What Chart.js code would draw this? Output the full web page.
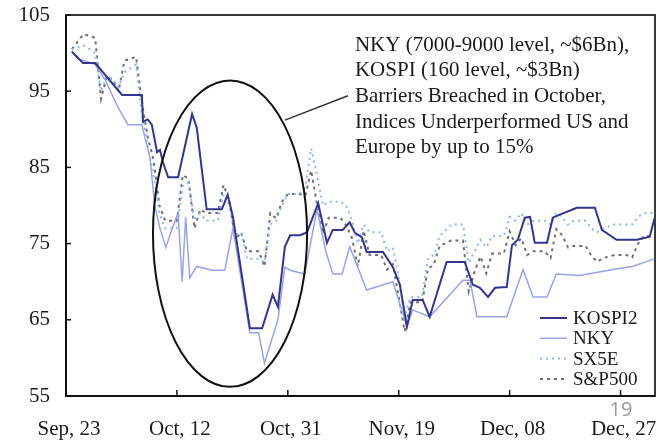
<!DOCTYPE html>
<html>
<head>
<meta charset="utf-8">
<script src="https://cdn.jsdelivr.net/npm/chart.js@4/dist/chart.umd.min.js"></script>
<style>
  html, body { margin: 0; padding: 0; background: #fff; }
  #wrap { width: 660px; height: 443px; }
</style>
</head>
<body>
<div id="wrap"><canvas id="chart" width="660" height="443"></canvas></div>
<script>
// days counted from Sep 23
const xTickDays = [0, 19, 38, 57, 76, 95];
const xTickLabels = ['Sep, 23', 'Oct, 12', 'Oct, 31', 'Nov, 19', 'Dec, 08', 'Dec, 27'];

const kospiDays = [1, 2.9, 5, 9.6, 13, 13.2, 14, 14.7, 15.6, 16.1, 16.6, 17.5, 19.2, 21.6, 22.4, 24.1, 26.7, 27.7, 28.6, 31.5,
  33.6, 35.4, 36.3, 37.5, 38.4, 40.1, 41.3, 43.2, 44.7, 45.7, 47.4, 48.6, 49.5, 50.7, 51.5, 54.3, 56, 57.2, 58.4, 59.4,
  61.1, 62.3, 65.2, 68.3, 69.7, 70.9, 72.3, 73.5, 75.5, 76.4, 77.4, 78.6, 79.5, 80.3, 82.4, 83.4, 84.6, 87.5, 90.6, 91.8,
  94.3, 97.8, 100, 100.8];
const kospiValues = [100.2, 98.7, 98.7, 94.5, 94.5, 91, 91.3, 90.6, 87, 87.3, 85.7, 83.7, 83.7, 92, 90.2, 79.5, 79.5, 81.4, 78.5, 63.9,
  63.9, 68.3, 66.7, 74.6, 76.1, 76.1, 76.5, 80.3, 75.1, 76.8, 76.8, 77.8, 76.4, 75.8, 73.9, 73.9, 71.9, 69.6, 64.1, 67.6,
  67.6, 65.4, 72.6, 72.6, 69.6, 69.2, 68, 69.2, 69.3, 74.8, 75.5, 78.4, 78.5, 75.1, 75.1, 78.4, 78.8, 79.7, 79.7, 76.8,
  75.5, 75.5, 75.9, 78.3];

const nkyDays = [1, 2, 5, 6.7, 8.7, 10.6, 13, 14.4, 15.2, 16.1, 17.1, 18.2, 19.2, 19.9, 20.5, 21.2, 22.4, 25, 27.2, 28.6,
  31.5, 33, 34, 36.3, 37.5, 38.4, 40.9, 43, 44.5, 45.7, 47.3, 48.6, 51.5, 56, 58.4, 59.4, 62.3, 68, 69.2, 70.4,
  75.5, 78.3, 80, 82.4, 84, 88, 93.7, 97, 100.8];
const nkyValues = [100.2, 99.3, 98.5, 96.5, 93.2, 90.6, 90.6, 86.2, 80, 77, 74.5, 77, 79, 70, 78.5, 70.5, 72, 71.5, 71.5, 77,
  63.3, 63.3, 59.3, 65, 71.9, 71.5, 71, 79.5, 74, 71, 71, 74.6, 68.9, 70, 64.1, 66.3, 65.4, 70.2, 70.2, 65.4,
  65.4, 71.6, 68, 68, 71, 70.8, 71.6, 72, 73];

const spDays = [1, 3, 5, 6, 7, 8, 9, 10, 12, 13, 14, 15, 16, 17, 19, 20, 21, 22, 23, 24, 26, 27, 28, 29, 30, 31, 33, 34, 35, 36,
  37, 38, 40, 41, 42, 43, 44, 45, 47, 48, 49, 50, 51, 52, 54, 55, 56, 57, 58, 59, 61, 62, 63, 64, 66, 68, 69, 70, 71, 72,
  73, 75, 76, 77, 78, 79, 80, 82, 83, 84, 85, 86, 87, 89, 90, 91, 92, 94, 96, 97, 98, 99, 100.8];
const spValues = [100.5, 102.5, 102, 94, 97, 96.5, 95, 99, 99.5, 93.5, 89, 86, 80, 78, 78, 84, 83.5, 77, 79.5, 79,
  79, 82.7, 80.5, 75.5, 76.5, 74, 74, 72, 79, 78.3, 80.5, 81.5, 81.5, 81.3, 84.6, 80.2, 76.3, 78.4, 78.4, 77.4,
  75.7, 72, 76.7, 73.5, 73.5, 71.6, 72.3, 68, 63.5, 67.3, 67.3, 71.7, 72.2, 74.7, 75.4, 75.4, 68.7, 71.4, 73.3, 71.1,
  73.7, 73.7, 76.6, 74.8, 75.7, 73.5, 74, 74, 73.1, 76.9, 76.1, 74.5, 74.7, 74.7, 73.4, 72.6, 73.1, 73.5, 73.5, 73.2,
  75, 76, 76];

const sxDays = spDays;
const sxValues = [100.5, 101, 100, 95, 97, 96.5, 95.5, 97.5, 98.5, 92, 88, 84, 79, 77, 77, 82.5, 83, 78, 79, 78,
  78, 81.5, 80, 76, 76.5, 73, 73, 72.5, 77.5, 78, 80, 81.5, 81.5, 82.5, 87.5, 84, 80, 80.5, 80.5, 80,
  78, 75, 77.5, 76.5, 76.5, 74, 74.5, 70.5, 65.5, 68, 68, 73, 73.5, 76, 77.5, 77.5, 72.5, 74, 75.5, 74.5,
  76, 76, 78.5, 78, 79, 77.5, 78, 78, 77.5, 79, 78.5, 77.5, 78, 78, 77, 76.5, 77, 77.5, 77.5, 77.5,
  78.5, 79, 79];

const noteLines = [
  'NKY (7000-9000 level, ~$6Bn),',
  'KOSPI (160 level, ~$3Bn)',
  'Barriers Breached in October,',
  'Indices Underperformed US and',
  'Europe by up to 15%'
];

const SERIF = '"Liberation Serif", "Times New Roman", serif';

function pts(days, vals) {
  return days.map((d, i) => ({ x: d, y: vals[i] }));
}

const series = [
  { label: 'KOSPI2', data: pts(kospiDays, kospiValues), borderColor: '#34368a', borderWidth: 2, borderDash: [] },
  { label: 'NKY', data: pts(nkyDays, nkyValues), borderColor: '#9aa3e6', borderWidth: 1.5, borderDash: [] },
  { label: 'SX5E', data: pts(sxDays, sxValues), borderColor: '#8fb6ee', borderWidth: 2, borderDash: [2, 4] },
  { label: 'S&P500', data: pts(spDays, spValues), borderColor: '#6f6f7c', borderWidth: 2, borderDash: [3, 4] }
];

const decor = {
  id: 'decor',
  afterDraw(chart) {
    const { ctx, chartArea: a, scales: { x, y } } = chart;
    ctx.save();
    ctx.setLineDash([]);
    // ellipse around October
    const cx = x.getPixelForValue(28.1), cy = y.getPixelForValue(76.3);
    const rx = x.getPixelForValue(28.1 + 13.2) - cx;
    const ry = cy - y.getPixelForValue(76.3 + 20.1);
    ctx.strokeStyle = '#111';
    ctx.lineWidth = 2;
    ctx.beginPath();
    ctx.ellipse(cx, cy, rx, ry, 0, 0, Math.PI * 2);
    ctx.stroke();
    // leader line
    ctx.lineWidth = 1.5;
    ctx.strokeStyle = '#333';
    ctx.beginPath();
    ctx.moveTo(x.getPixelForValue(37.5), y.getPixelForValue(91.2));
    ctx.lineTo(x.getPixelForValue(48.3), y.getPixelForValue(94.4));
    ctx.stroke();

    // left/bottom axes in black
    const L = Math.round(a.left), T = Math.round(a.top), R = Math.round(a.right), B = Math.round(a.bottom);
    ctx.strokeStyle = '#111';
    ctx.lineWidth = 2;
    ctx.beginPath();
    ctx.moveTo(L, T); ctx.lineTo(L, B); ctx.lineTo(R, B);
    ctx.stroke();
    // inward ticks
    ctx.lineWidth = 1.5;
    y.ticks.forEach(t => {
      const py = y.getPixelForValue(t.value);
      ctx.beginPath(); ctx.moveTo(L, py); ctx.lineTo(L + 5, py); ctx.stroke();
    });
    x.ticks.forEach(t => {
      const px = x.getPixelForValue(t.value);
      ctx.beginPath(); ctx.moveTo(px, B); ctx.lineTo(px, B - 6); ctx.stroke();
    });

    // note text
    ctx.fillStyle = '#1a1a1a';
    ctx.font = '21px ' + SERIF;
    ctx.textBaseline = 'middle';
    ctx.textAlign = 'left';
    const tx = x.getPixelForValue(49.5);
    noteLines.forEach((s, i) => ctx.fillText(s, tx, 45 + i * 25.7));

    // legend
    ctx.font = '19px ' + SERIF;
    series.forEach((s, i) => {
      const ly = 318 + i * 20.3;
      ctx.strokeStyle = s.borderColor;
      ctx.lineWidth = s.borderWidth;
      ctx.setLineDash(s.borderDash);
      ctx.beginPath(); ctx.moveTo(540, ly); ctx.lineTo(567, ly); ctx.stroke();
      ctx.setLineDash([]);
      ctx.fillStyle = '#1a1a1a';
      ctx.fillText(s.label, 573, ly + 1);
    });

    // page number
    ctx.fillStyle = '#9a9a9a';
    ctx.font = '20px "Open Sans", sans-serif';
    ctx.textAlign = 'center';
    ctx.fillText('19', 621, 410);
    ctx.restore();
  }
};

new Chart(document.getElementById('chart'), {
  type: 'line',
  data: {
    datasets: series.map(s => ({
      label: s.label,
      data: s.data,
      borderColor: s.borderColor,
      borderWidth: s.borderWidth,
      borderDash: s.borderDash,
      pointRadius: 0,
      tension: 0,
      fill: false,
      xAxisID: 'x',
      yAxisID: 'y'
    }))
  },
  options: {
    responsive: false,
    animation: false,
    layout: { padding: { top: 15, right: 5, left: 0, bottom: 0 } },
    plugins: { legend: { display: false }, tooltip: { enabled: false } },
    scales: {
      x: {
        type: 'linear',
        min: 0,
        max: 100.9,
        afterBuildTicks: scale => { scale.ticks = xTickDays.map(v => ({ value: v })); },
        afterFit: scale => { scale.height = 47; scale.paddingLeft = 0; scale.paddingRight = 0; },
        ticks: {
          autoSkip: false,
          maxRotation: 0,
          padding: 21,
          labelOffset: 3,
          color: '#1a1a1a',
          font: { family: SERIF, size: 21 },
          callback: (v, i) => xTickLabels[i]
        },
        grid: { display: false, drawTicks: false },
        border: { display: false }
      },
      xTop: {
        type: 'linear',
        position: 'top',
        min: 0,
        max: 100.9,
        afterFit: scale => { scale.height = 0; scale.paddingLeft = 0; scale.paddingRight = 0; },
        ticks: { display: false },
        grid: { display: false, drawTicks: false },
        border: { display: true, color: '#3a3a3a', width: 2 }
      },
      y: {
        min: 55,
        max: 105,
        afterFit: scale => { scale.width = 66; scale.paddingTop = 0; scale.paddingBottom = 0; },
        ticks: {
          stepSize: 10,
          padding: 16,
          color: '#1a1a1a',
          font: { family: SERIF, size: 21 }
        },
        grid: { display: false, drawTicks: false },
        border: { display: false }
      },
      yRight: {
        position: 'right',
        min: 55,
        max: 105,
        afterFit: scale => { scale.width = 0; scale.paddingTop = 0; scale.paddingBottom = 0; },
        ticks: { display: false },
        grid: { display: false, drawTicks: false },
        border: { display: true, color: '#3a3a3a', width: 2 }
      }
    }
  },
  plugins: [decor]
});
</script>
</body>
</html>
